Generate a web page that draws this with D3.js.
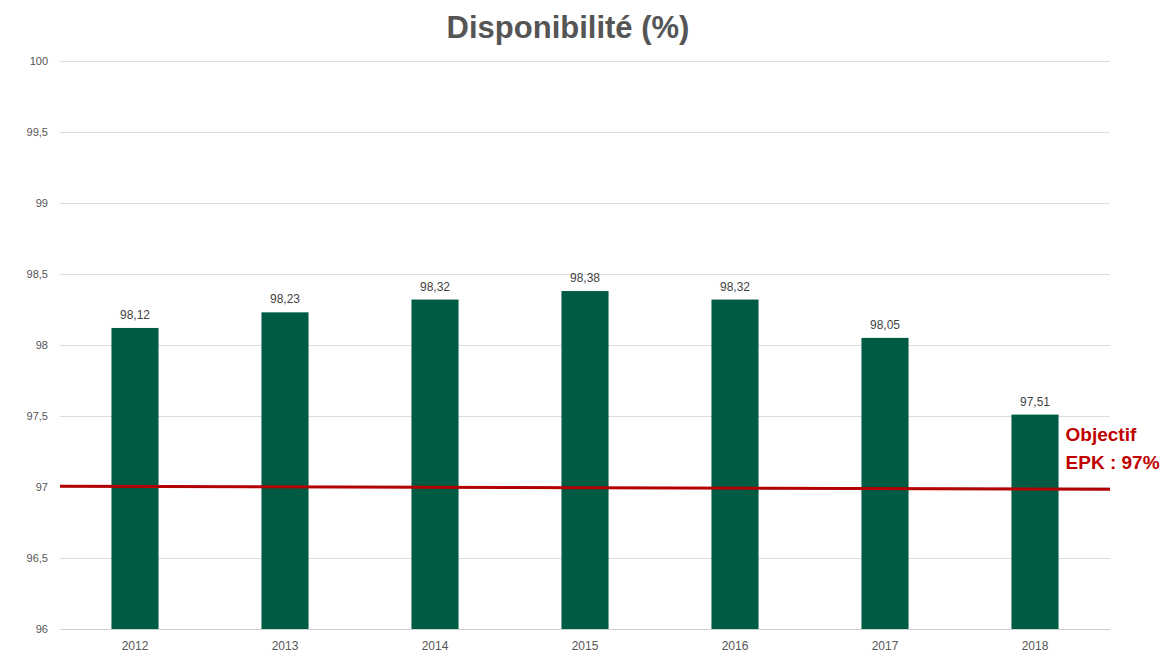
<!DOCTYPE html>
<html>
<head>
<meta charset="utf-8">
<script src="https://cdn.jsdelivr.net/npm/d3@7"></script>
<style>
  body { margin: 0; background: #fff; }
  text { font-family: "Liberation Sans", Arial, sans-serif; }
</style>
</head>
<body>
<script>
var years = ["2012", "2013", "2014", "2015", "2016", "2017", "2018"];
var dispo = [98.12, 98.23, 98.32, 98.38, 98.32, 98.05, 97.51];
var yTicks = [96, 96.5, 97, 97.5, 98, 98.5, 99, 99.5, 100];
var objectif = [97.005, 96.985]; // hand-drawn line, slightly sloped
var objectifLabel = ["Objectif", "EPK : 97%"];

var canvasWidth = 1173;
var canvasHeight = 657;
var margin = { top: 61, right: 63, bottom: 28, left: 60 };
var width = canvasWidth - margin.left - margin.right;
var height = canvasHeight - margin.top - margin.bottom;

var fmt = function(v) { return String(v).replace(".", ","); };

var svg = d3.select("body").append("svg")
    .attr("width", canvasWidth)
    .attr("height", canvasHeight);

svg.append("text")
    .attr("x", 568)
    .attr("y", 38)
    .attr("text-anchor", "middle")
    .attr("font-size", "31px")
    .attr("font-weight", "bold")
    .attr("fill", "#555")
    .text("Disponibilité (%)");

var g = svg.append("g")
    .attr("transform", "translate(" + margin.left + "," + margin.top + ")");

var xScale = d3.scaleBand().domain(years).range([0, width])
    .paddingInner(0.686).paddingOuter(0.343);
var yScale = d3.scaleLinear().domain([96, 100]).range([height, 0]);

// grid + y labels
var yAxis = g.append("g")
    .call(d3.axisLeft(yScale).tickValues(yTicks).tickFormat(fmt).tickSize(-width).tickPadding(12));
yAxis.select(".domain").remove();
yAxis.selectAll(".tick line").attr("stroke", "#dcdcdc").attr("stroke-width", 1);
yAxis.selectAll(".tick text").attr("fill", "#555").attr("font-size", "11px");

// x labels
var xAxis = g.append("g")
    .attr("transform", "translate(0," + height + ")")
    .call(d3.axisBottom(xScale).tickSize(0).tickPadding(12));
xAxis.select(".domain").attr("stroke", "#d0d0d0");
xAxis.selectAll(".tick text").attr("fill", "#555").attr("font-size", "12px");

var data = years.map(function(y, i) { return { year: y, v: dispo[i] }; });

g.selectAll(".bar").data(data).enter().append("rect")
    .attr("class", "bar")
    .attr("x", function(d) { return xScale(d.year); })
    .attr("width", xScale.bandwidth())
    .attr("y", function(d) { return yScale(d.v); })
    .attr("height", function(d) { return height - yScale(d.v); })
    .attr("fill", "#005b45");

g.selectAll(".lbl").data(data).enter().append("text")
    .attr("class", "lbl")
    .attr("x", function(d) { return xScale(d.year) + xScale.bandwidth() / 2; })
    .attr("y", function(d) { return yScale(d.v) - 9; })
    .attr("text-anchor", "middle")
    .attr("font-size", "12px")
    .attr("fill", "#444")
    .text(function(d) { return fmt(d.v); });

// objective line
g.append("line")
    .attr("x1", 0).attr("x2", width)
    .attr("y1", yScale(objectif[0])).attr("y2", yScale(objectif[1]))
    .attr("stroke", "#b30000")
    .attr("stroke-width", 3);

var labelX = xScale("2018") + xScale.bandwidth() + 7;
g.append("text")
    .attr("y", yScale(97.5) - 3)
    .attr("font-size", "19px")
    .attr("font-weight", "bold")
    .attr("fill", "#c00000")
    .selectAll("tspan").data(objectifLabel).enter().append("tspan")
    .attr("x", labelX)
    .attr("dy", function(d, i) { return i === 0 ? 28 : 28; })
    .text(function(d) { return d; });
</script>
</body>
</html>
